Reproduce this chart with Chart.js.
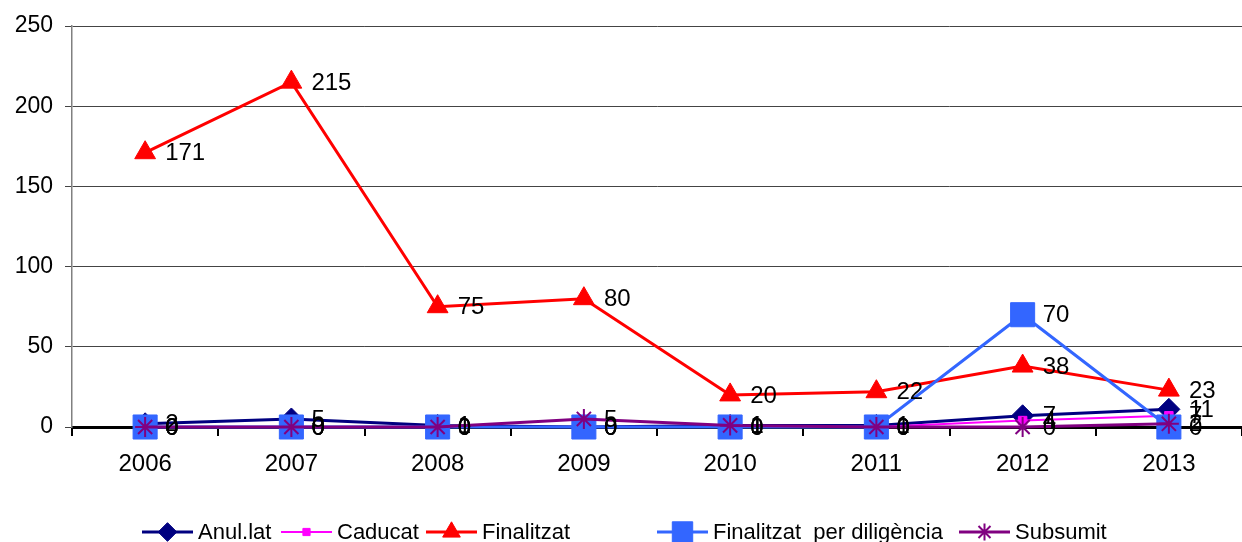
<!DOCTYPE html>
<html>
<head>
<meta charset="utf-8">
<title>Expedients 2006-2013</title>
<script src="https://cdn.jsdelivr.net/npm/chart.js@4.4.0/dist/chart.umd.min.js"></script>
<style>
    html, body { margin: 0; padding: 0; background: #fff; overflow: hidden; }
    #wrap { width: 1242px; height: 542px; position: relative; }
    #expedients { display: block; }
</style>
</head>
<body>
<div id="wrap"><canvas id="expedients"></canvas></div>
<script>
// Categories and series
const years = ['2006', '2007', '2008', '2009', '2010', '2011', '2012', '2013'];
const anulat = [2, 5, 1, 0, 1, 1, 7, 11];
const caducat = [0, 0, 0, 0, 0, 0, 4, 7];
const finalitzat = [171, 215, 75, 80, 20, 22, 38, 23];
const perDiligencia = [0, 0, 0, 0, 0, 0, 70, 0];
const subsumit = [0, 0, 0, 5, 1, 0, 0, 2];
const yTicks = [0, 50, 100, 150, 200, 250];

const FONT = '"Liberation Sans", Arial, sans-serif';
Chart.defaults.font.family = FONT;
Chart.defaults.font.size = 23;
Chart.defaults.color = '#000';

// left edge of each legend entry (line icon start)
const legendX = [142, 281, 426, 657, 959];

// value written to the right of every point
const valueLabels = {
    id: 'valueLabels',
    afterDatasetsDraw(chart) {
        const ctx = chart.ctx;
        ctx.save();
        ctx.font = '24px ' + FONT;
        ctx.fillStyle = '#000';
        ctx.textAlign = 'left';
        ctx.textBaseline = 'middle';
        chart.data.datasets.forEach((ds, i) => {
            chart.getDatasetMeta(i).data.forEach((pt, j) => {
                ctx.fillText(String(ds.data[j]), pt.x + 20, pt.y + 1);
            });
        });
        ctx.restore();
    }
};

// legend row: line + marker + name
const legendRow = {
    id: 'legendRow',
    afterDraw(chart) {
        const ctx = chart.ctx;
        const y = 532;
        ctx.save();
        ctx.font = '22px ' + FONT;
        ctx.textAlign = 'left';
        ctx.textBaseline = 'middle';
        chart.data.datasets.forEach((ds, i) => {
            const x0 = legendX[i];
            ctx.strokeStyle = ds.borderColor;
            ctx.lineWidth = ds.borderWidth;
            ctx.beginPath();
            ctx.moveTo(x0, y);
            ctx.lineTo(x0 + 51, y);
            ctx.stroke();
            ctx.fillStyle = ds.pointBackgroundColor;
            ctx.strokeStyle = ds.pointBorderColor;
            ctx.lineWidth = ds.pointBorderWidth;
            Chart.helpers.drawPoint(ctx, {
                pointStyle: ds.pointStyle,
                radius: ds.pointRadius * 0.85,
                rotation: 0,
                borderWidth: ds.pointBorderWidth
            }, x0 + 25.5, y);
            ctx.fillStyle = '#000';
            ctx.fillText(ds.label, x0 + 56, y + 1);
        });
        ctx.restore();
    }
};

function series(label, data, color, style, radius, width, order) {
    return {
        label: label,
        data: data,
        borderColor: color,
        backgroundColor: color,
        borderWidth: width,
        pointStyle: style,
        pointRadius: radius,
        pointHoverRadius: radius,
        pointBackgroundColor: color,
        pointBorderColor: color,
        pointBorderWidth: style === 'star' ? 2 : 1,
        tension: 0,
        clip: false,
        order: order
    };
}

const ctx = document.getElementById('expedients').getContext('2d');
new Chart(ctx, {
    type: 'line',
    data: {
        labels: years,
        datasets: [
            series('Anul.lat', anulat, '#000080', 'rectRot', 11, 3, 5),
            series('Caducat', caducat, '#FF00FF', 'rect', 6, 2, 4),
            series('Finalitzat', finalitzat, '#FF0000', 'triangle', 12, 3, 3),
            series('Finalitzat  per diligència', perDiligencia, '#3366FF', 'rect', 17, 3, 2),
            series('Subsumit', subsumit, '#800080', 'star', 10, 3, 1)
        ]
    },
    options: {
        responsive: true,
        maintainAspectRatio: false,
        animation: false,
        events: [],
        layout: {
            autoPadding: false,
            padding: { top: 26, right: 0, bottom: 0, left: 0 }
        },
        plugins: {
            legend: { display: false },
            tooltip: { enabled: false }
        },
        scales: {
            x: {
                offset: true,
                afterFit(scale) {
                    scale.height = 115;
                    scale.paddingLeft = 0;
                    scale.paddingRight = 0;
                },
                grid: {
                    offset: true,
                    drawOnChartArea: false,
                    drawTicks: true,
                    tickLength: 9,
                    color: '#000',
                    lineWidth: 2
                },
                border: { color: '#000', width: 3 },
                ticks: { padding: 14, maxRotation: 0, color: '#000', font: { size: 24 } }
            },
            y: {
                min: 0,
                max: 250,
                afterFit(scale) { scale.width = 72; },
                afterBuildTicks(scale) {
                    scale.ticks = yTicks.map(v => ({ value: v }));
                },
                grid: {
                    color: '#444',
                    lineWidth: 1,
                    tickLength: 7
                },
                border: { color: '#808080', width: 1.5 },
                ticks: { padding: 12, color: '#000' }
            }
        }
    },
    plugins: [valueLabels, legendRow]
});
</script>
</body>
</html>
